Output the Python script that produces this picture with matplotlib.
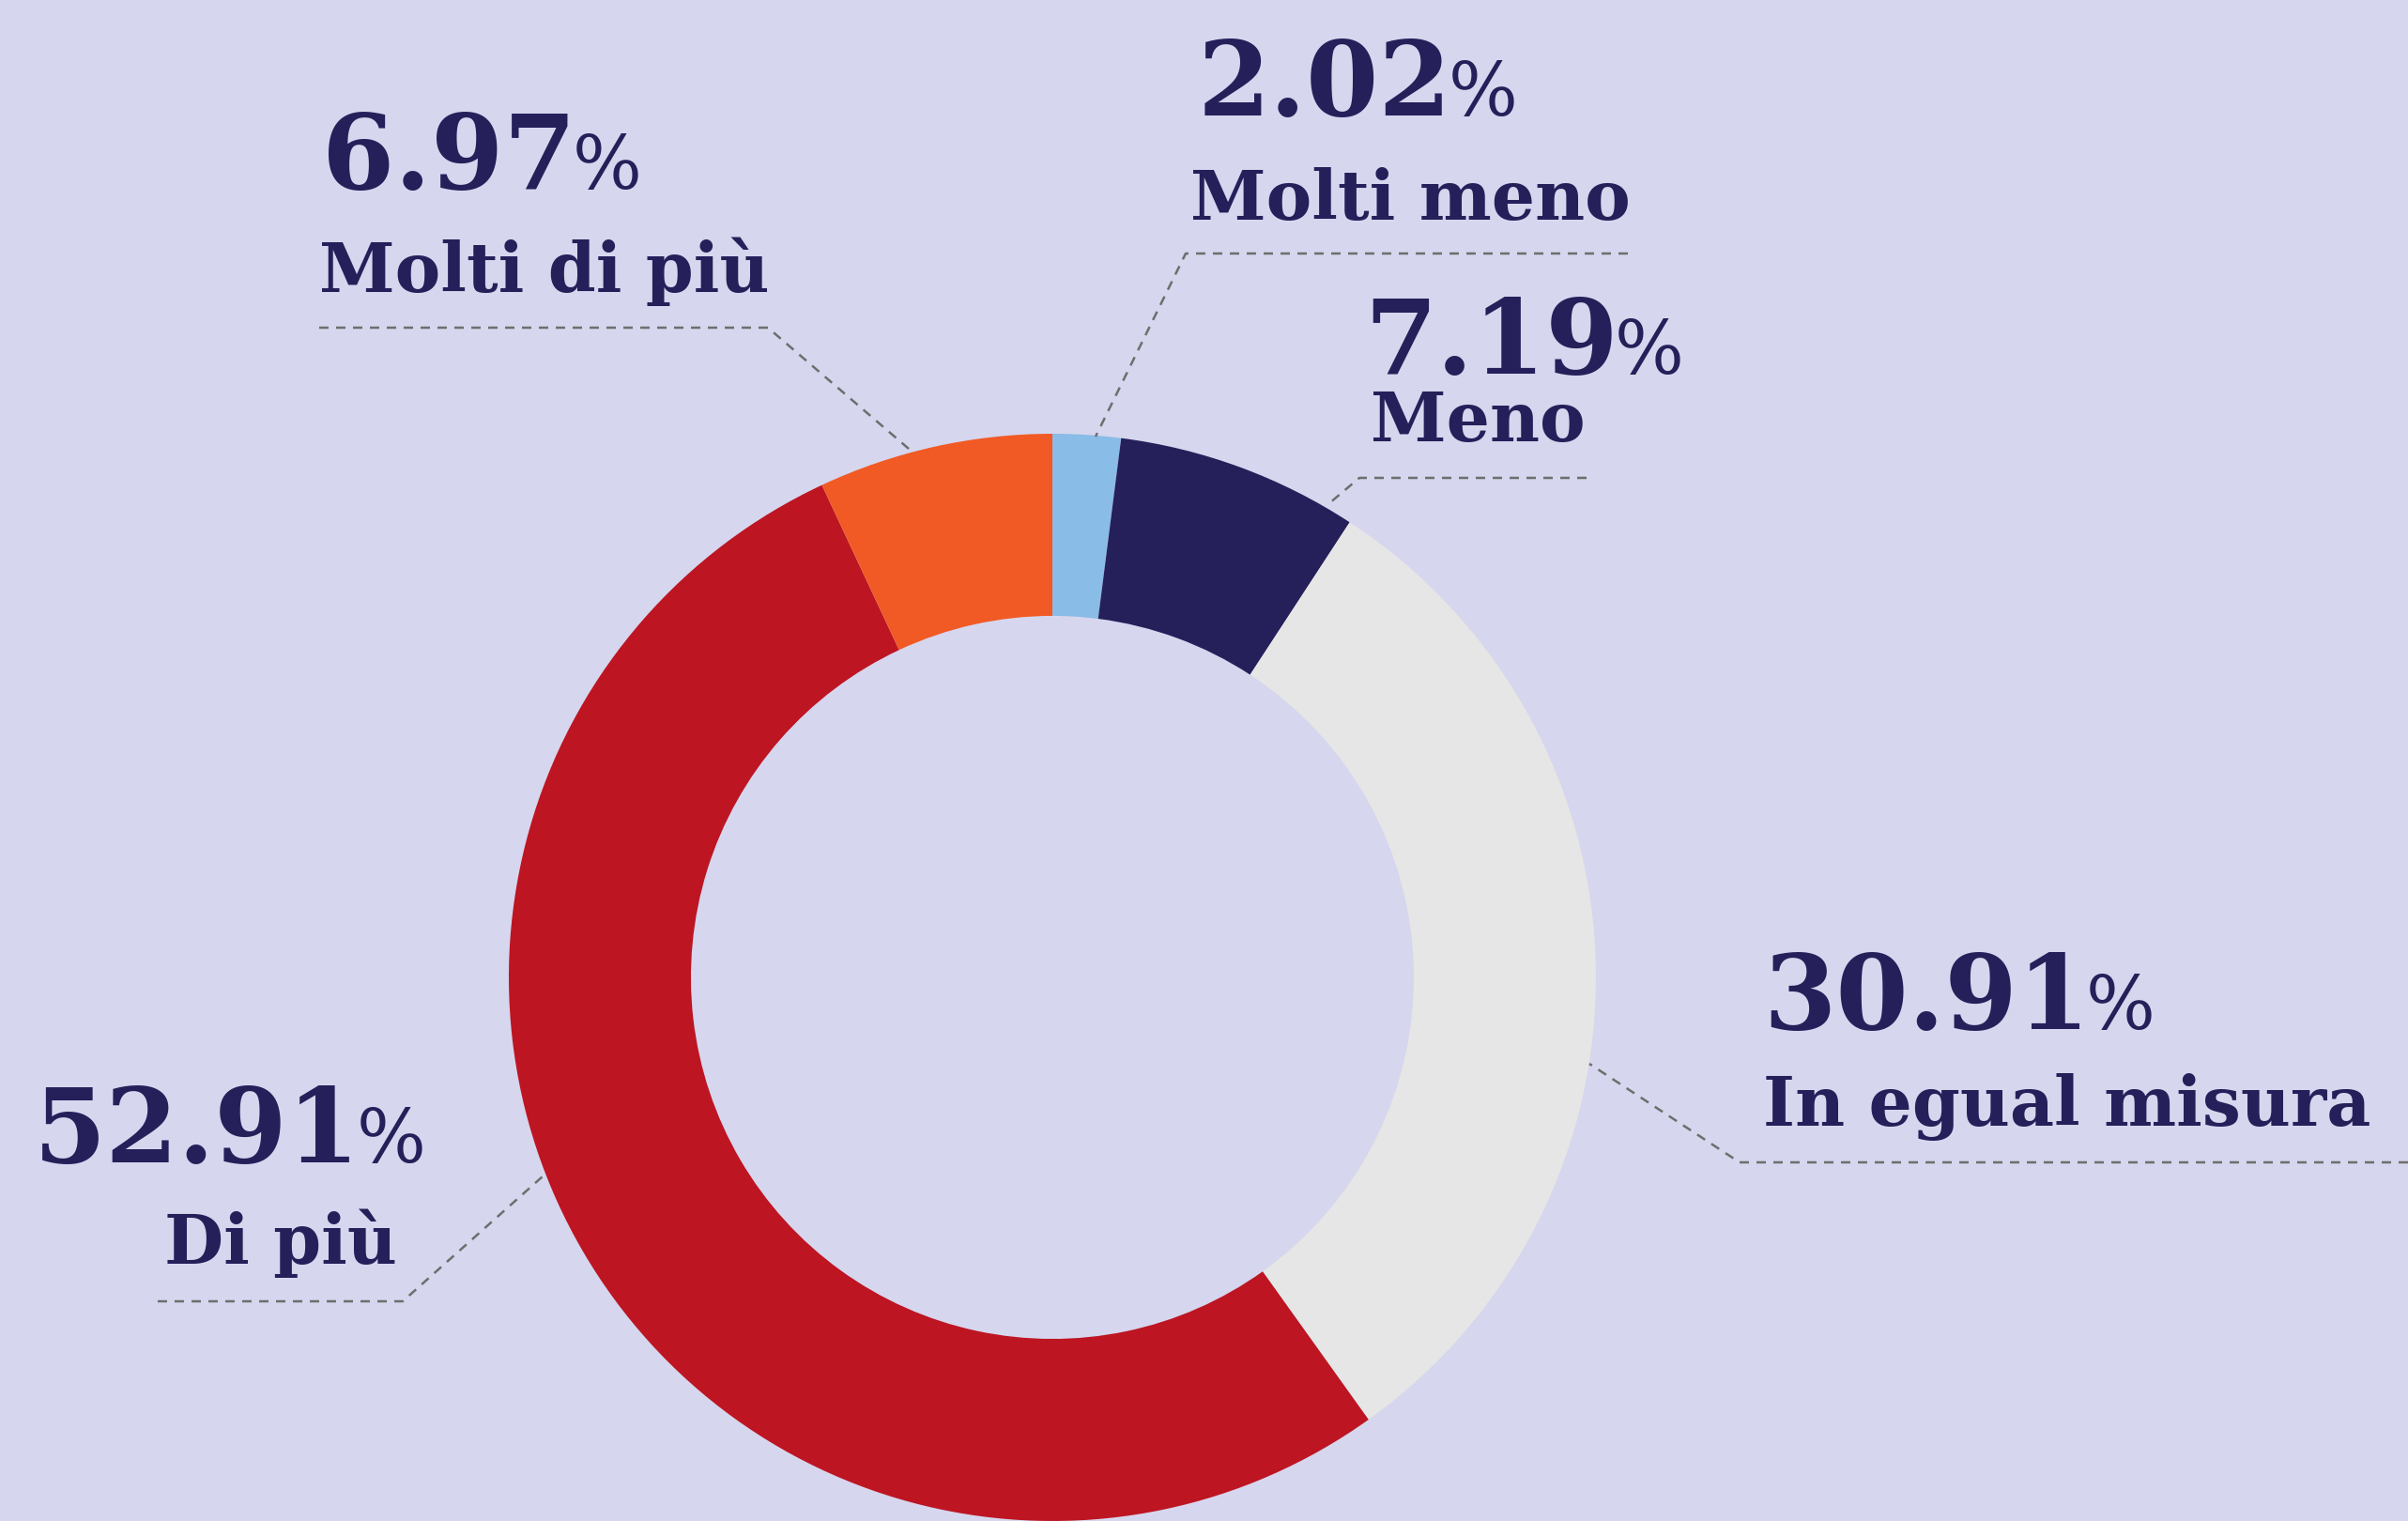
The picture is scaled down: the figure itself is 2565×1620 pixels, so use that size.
import matplotlib
matplotlib.use("Agg")
import matplotlib.pyplot as plt
from matplotlib.lines import Line2D

# ---- data ----
categories = ["Molti meno", "Meno", "In egual misura", "Di più", "Molti di più"]
values = [2.02, 7.19, 30.91, 52.91, 6.97]
value_labels = ["2.02", "7.19", "30.91", "52.91", "6.97"]
colors = ["#89bce6", "#25205a", "#e6e6e6", "#bd1522", "#f15a24"]

BG = "#d6d6ee"
TXT = "#25205a"
LEAD = "#6e6e6e"
W, H = 2565, 1620

fig = plt.figure(figsize=(W / 100, H / 100), dpi=100, facecolor=BG)

# donut axes: center (1121, 1041) px from top, radius 579 px
cx, cy, R = 1121, 1041, 579
ax = fig.add_axes([(cx - R) / W, (H - cy - R) / H, 2 * R / W, 2 * R / H])
ax.set_facecolor(BG)
wedges, _ = ax.pie(values, colors=colors, startangle=90, counterclock=False,
                   radius=1.0, wedgeprops=dict(width=0.335, linewidth=0))
for w in wedges:
    w.set_clip_on(False)
ax.set_xlim(-1, 1)
ax.set_ylim(-1, 1)
ax.set_aspect("equal")
ax.axis("off")


def fx(x):
    return x / W


def fy(y):
    return 1 - y / H


# label layout (pixel positions, from top-left): number left/baseline, label left/baseline
layout = {
    "Molti meno":      dict(num=(1276, 123), lab=(1268, 234)),
    "Meno":            dict(num=(1453, 398), lab=(1460, 470)),
    "In egual misura": dict(num=(1878, 1096), lab=(1878, 1199)),
    "Di più":          dict(num=(36, 1238), lab=(175, 1346)),
    "Molti di più":    dict(num=(343, 201), lab=(340, 311)),
}
# leader line paths (pixels)
leaders = {
    "Molti meno":      [(1734, 270), (1263, 270), (1167, 465)],
    "Meno":            [(1690, 509), (1448, 509), (1416, 536)],
    "In egual misura": [(2565, 1238), (1853, 1238), (1693, 1133)],
    "Di più":          [(168, 1386), (429, 1386), (578, 1253)],
    "Molti di più":    [(340, 349), (818, 349), (968, 478)],
}

NUM_FS = 80
PCT_FS = 56
LAB_FS = 52.5
FONT = "DejaVu Serif"

fig.canvas.draw()
renderer = fig.canvas.get_renderer()

for cat, vlab in zip(categories, value_labels):
    L = layout[cat]
    nx, ny = L["num"]
    t = fig.text(fx(nx), fy(ny), vlab, fontsize=NUM_FS, fontweight="bold",
                 family=FONT, color=TXT, ha="left", va="baseline")
    bb = t.get_window_extent(renderer)
    fig.text(bb.x1 / W - 4 / W, fy(ny), "%", fontsize=PCT_FS, fontweight="normal",
             family=FONT, color=TXT, ha="left", va="baseline")
    lx, ly = L["lab"]
    fig.text(fx(lx), fy(ly), cat, fontsize=LAB_FS, fontweight="bold",
             family=FONT, color=TXT, ha="left", va="baseline")
    pts = leaders[cat]
    line = Line2D([fx(p[0]) for p in pts], [fy(p[1]) for p in pts],
                  transform=fig.transFigure, color=LEAD, linewidth=1.8,
                  linestyle=(0, (4, 3.2)))
    fig.add_artist(line)

fig.savefig("out.png", dpi=100, facecolor=BG)
